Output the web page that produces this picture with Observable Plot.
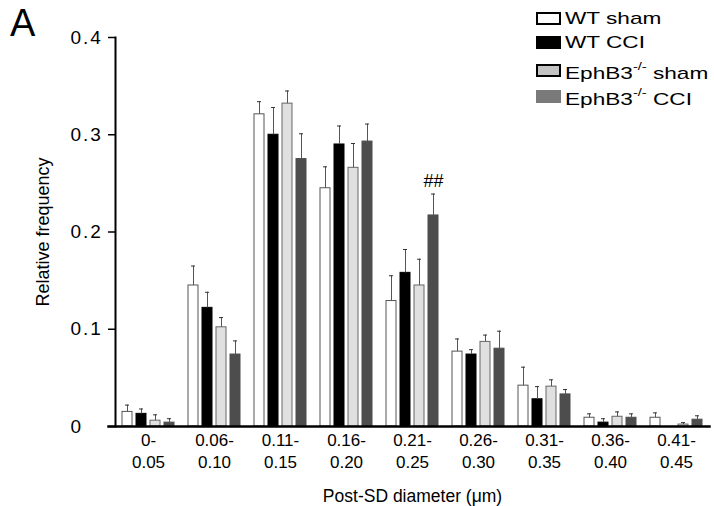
<!DOCTYPE html>
<html><head><meta charset="utf-8">
<script src="https://cdn.jsdelivr.net/npm/d3@7"></script>
<script src="https://cdn.jsdelivr.net/npm/@observablehq/plot@0.6"></script>
<style>
body{margin:0;background:#fff;font-family:"Liberation Sans",Arial,sans-serif;}
#wrap{position:relative;width:714px;height:506px;}
#panel{position:absolute;left:10px;top:1px;font-size:38px;line-height:44px;}
.leg{position:absolute;left:536px;font-size:17px;line-height:17px;display:flex;align-items:center;white-space:nowrap;}
.leg span{display:inline-block;transform:scaleX(1.33);transform-origin:left center;}
.sw{width:25px;height:13px;box-sizing:border-box;margin-right:4px;}
.leg sup{font-size:11px;position:relative;top:-2px;}
g[aria-label="y-axis tick label"] text{letter-spacing:2px;}
</style></head><body>
<div id="wrap"></div>
<script>
// ---- data ----
const groups = ["0-0.05","0.06-0.10","0.11-0.15","0.16-0.20","0.21-0.25","0.26-0.30","0.31-0.35","0.36-0.40","0.41-0.45"];
const groupTickLabels = ["0-\n0.05","0.06-\n0.10","0.11-\n0.15","0.16-\n0.20","0.21-\n0.25","0.26-\n0.30","0.31-\n0.35","0.36-\n0.40","0.41-\n0.45"];
const seriesNames = ["WT sham","WT CCI","EphB3-/- sham","EphB3-/- CCI"];
const wtSham     = [0.015, 0.145, 0.321, 0.245, 0.129, 0.077, 0.042, 0.009, 0.009];
const wtShamErr  = [0.007, 0.020, 0.013, 0.022, 0.026, 0.013, 0.019, 0.004, 0.005];
const wtCCI      = [0.013, 0.122, 0.300, 0.290, 0.158, 0.074, 0.028, 0.004, 0.000];
const wtCCIErr   = [0.005, 0.016, 0.028, 0.019, 0.024, 0.005, 0.013, 0.004, 0.000];
const ephSham    = [0.006, 0.102, 0.332, 0.266, 0.145, 0.087, 0.041, 0.010, 0.002];
const ephShamErr = [0.006, 0.010, 0.013, 0.025, 0.027, 0.007, 0.007, 0.005, 0.002];
const ephCCI     = [0.004, 0.074, 0.275, 0.293, 0.217, 0.080, 0.033, 0.009, 0.007];
const ephCCIErr  = [0.004, 0.014, 0.026, 0.018, 0.022, 0.018, 0.005, 0.004, 0.004];
const yTicks = [0, 0.1, 0.2, 0.3, 0.4];
const yTickLabels = ["0","0.1","0.2","0.3","0.4"];
const annotations = [{group: "0.21-0.25", series: "EphB3-/- CCI", label: "##"}];

// ---- styles ----
const fills   = {"WT sham":"#ffffff","WT CCI":"#000000","EphB3-/- sham":"#e0e0e0","EphB3-/- CCI":"#4d4d4d"};
const strokes = {"WT sham":"#555555","WT CCI":"#000000","EphB3-/- sham":"#666666","EphB3-/- CCI":"#4d4d4d"};

const valuesBySeries = [wtSham, wtCCI, ephSham, ephCCI];
const errBySeries = [wtShamErr, wtCCIErr, ephShamErr, ephCCIErr];
const rows = [];
groups.forEach((g, i) => seriesNames.forEach((s, j) => rows.push({group: g, series: s, value: valuesBySeries[j][i], err: errBySeries[j][i]})));
const errRows = rows.filter(d => d.value > 0);
const annRows = annotations.map(a => ({...a, top: rows.find(r => r.group === a.group && r.series === a.series)}));

const plot = Plot.plot({
  width: 714, height: 506,
  marginLeft: 114, marginRight: 5, marginTop: 37, marginBottom: 80,
  style: {fontFamily: "Liberation Sans, Arial, sans-serif", fontSize: "17px", color: "#000", background: "white", overflow: "visible"},
  fx: {domain: groups, padding: 0, label: null, axis: null},
  x: {domain: seriesNames, paddingInner: 0.3, paddingOuter: 0.455, axis: null},
  y: {domain: [0, 0.4], axis: null},
  marks: [
    Plot.barY(rows, {fx: "group", x: "series", y: "value", fill: d => fills[d.series], stroke: d => strokes[d.series], strokeWidth: 1}),
    Plot.ruleX(errRows, {fx: "group", x: "series", y1: "value", y2: d => d.value + d.err, stroke: "#555", strokeWidth: 1}),
    Plot.tickY(errRows, {fx: "group", x: "series", y: d => d.value + d.err, stroke: "#333", strokeWidth: 1, insetLeft: 3, insetRight: 3}),
    Plot.text(annRows, {fx: "group", x: "series", y: d => d.top.value + d.top.err, text: "label", dy: -13, fontSize: 18, fill: "#000"}),
    Plot.frame({anchor: "bottom", facet: "super", stroke: "#000", strokeWidth: 2.5, insetLeft: -7}),
    Plot.frame({anchor: "left", facet: "super", stroke: "#000", strokeWidth: 2}),
    Plot.axisY({ticks: yTicks, tickFormat: (d, i) => yTickLabels[i], tickSize: 7, tickPadding: 38, textAnchor: "start", fontSize: 19, strokeWidth: 1.5,
      label: "Relative frequency", labelAnchor: "center", labelOffset: 79, labelArrow: false}),
    Plot.axisFx({anchor: "bottom", tickSize: 0, tickPadding: 4, tickFormat: (d, i) => groupTickLabels[i], lineHeight: 1.3, fontSize: 17,
      label: "Post-SD diameter (\u03bcm)", labelAnchor: "center", labelOffset: 75, labelArrow: false})
  ]
});
const wrap = document.getElementById("wrap");
wrap.appendChild(plot);
// axis title sizes to match reference
plot.querySelectorAll("text").forEach(t => {
  if (t.textContent === "Post-SD diameter (\u03bcm)") t.setAttribute("font-size", 17.5);
  if (t.textContent === "Relative frequency") t.setAttribute("font-size", 18);
});
const panel = document.createElement("div"); panel.id = "panel"; panel.textContent = "A"; wrap.appendChild(panel);
const legendTops = [10, 34, 60, 86];
const legendSw = [
  {bg: "#ffffff", border: "2px solid #000"},
  {bg: "#000000", border: "none"},
  {bg: "#c4c4c4", border: "2px solid #000"},
  {bg: "#7a7a7a", border: "none"}
];
const legendHtml = ["WT sham", "WT CCI", "EphB3<sup>-/-</sup> sham", "EphB3<sup>-/-</sup> CCI"];
seriesNames.forEach((s, i) => {
  const row = document.createElement("div");
  row.className = "leg"; row.style.top = legendTops[i] + "px";
  const sw = document.createElement("div"); sw.className = "sw"; sw.style.background = legendSw[i].bg; sw.style.border = legendSw[i].border;
  const t = document.createElement("span"); t.innerHTML = legendHtml[i];
  row.appendChild(sw); row.appendChild(t); wrap.appendChild(row);
});
</script>
</body></html>
